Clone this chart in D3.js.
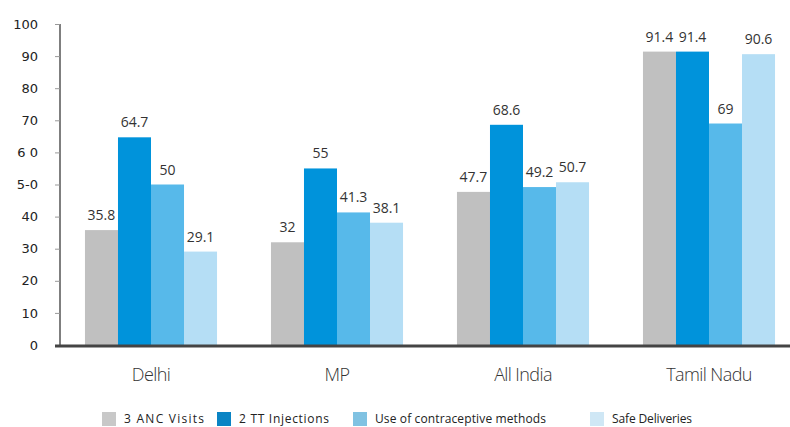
<!DOCTYPE html>
<html>
<head>
<meta charset="utf-8">
<script src="https://cdn.jsdelivr.net/npm/d3@7"></script>
<style>
  body { margin: 0; background: #fff; }
  text { font-family: "Open Sans", "DejaVu Sans", sans-serif; }
</style>
</head>
<body>
<div id="chartDiv"></div>
<script>
// data
var regions = ["Delhi", "MP", "All India", "Tamil Nadu"];
var seriesNames = ["3 ANC Visits", "2 TT Injections", "Use of contraceptive methods", "Safe Deliveries"];
var ancVisits = [35.8, 32, 47.7, 91.4];
var ttInjections = [64.7, 55, 68.6, 91.4];
var contraceptive = [50, 41.3, 49.2, 69];
var safeDeliveries = [29.1, 38.1, 50.7, 90.6];
var yTicks = [0, 10, 20, 30, 40, 50, 60, 70, 80, 90, 100];
var yTickLabels = ["0", "10", "20", "30", "40", "5-0", "6 0", "70", "80", "90", "100"];

var barColors = ["#c0c0c0", "#0093db", "#57b9ea", "#b5def5"];
var legendColors = ["#c8c8c8", "#0a84c4", "#80c2e2", "#cfe7f5"];
var seriesValues = [ancVisits, ttInjections, contraceptive, safeDeliveries];

var svg = d3.select("#chartDiv").append("svg")
    .attr("width", 790)
    .attr("height", 427);

var x_scale = d3.scaleBand()
    .domain(regions)
    .range([58, 802])
    .paddingInner(0.29)
    .paddingOuter(0.145);

var x_inner = d3.scaleBand()
    .domain(d3.range(seriesNames.length))
    .range([0, x_scale.bandwidth()]);

var y_scale = d3.scaleLinear()
    .domain([0, 100])
    .range([345, 24]);

// y axis
var yAxis = d3.axisLeft(y_scale)
    .tickValues(yTicks)
    .tickSize(5)
    .tickPadding(17)
    .tickFormat(function(d, i) { return yTickLabels[i]; });

var yg = svg.append("g")
    .attr("transform", "translate(60,0)")
    .call(yAxis);
yg.select(".domain").attr("stroke", "#555").attr("stroke-width", 1.5)
    .attr("d", "M0," + y_scale(100) + "V" + y_scale(0));
yg.selectAll(".tick line").attr("stroke", "#999");
yg.selectAll(".tick text")
    .attr("fill", "#222")
    .style("font-size", "13px")
    .style("font-family", "'DejaVu Sans', sans-serif");

// bars
var groups = svg.append("g").selectAll(".group")
    .data(regions)
    .enter().append("g")
    .attr("class", "group")
    .attr("transform", function(d) { return "translate(" + x_scale(d) + ",0)"; });

groups.selectAll("rect")
    .data(function(d, gi) { return seriesValues.map(function(s, si) { return {s: si, v: s[gi]}; }); })
    .enter().append("rect")
    .attr("x", function(d) { return x_inner(d.s); })
    .attr("y", function(d) { return y_scale(d.v); })
    .attr("width", x_inner.bandwidth())
    .attr("height", function(d) { return y_scale(0) - y_scale(d.v); })
    .attr("fill", function(d) { return barColors[d.s]; });

groups.selectAll(".val")
    .data(function(d, gi) { return seriesValues.map(function(s, si) { return {s: si, v: s[gi]}; }); })
    .enter().append("text")
    .attr("class", "val")
    .attr("x", function(d) { return x_inner(d.s) + x_inner.bandwidth() / 2; })
    .attr("y", function(d) { return y_scale(d.v) - 10; })
    .attr("text-anchor", "middle")
    .attr("fill", "#333")
    .style("font-size", "14px")
    .text(function(d) { return d.v; });

// baseline
svg.append("line")
    .attr("x1", 55).attr("x2", 790)
    .attr("y1", y_scale(0) + 1).attr("y2", y_scale(0) + 1)
    .attr("stroke", "#444")
    .attr("stroke-width", 3);

// category labels
svg.append("g").selectAll(".cat")
    .data(regions)
    .enter().append("text")
    .attr("x", function(d) { return x_scale(d) + x_scale.bandwidth() / 2; })
    .attr("y", 381)
    .attr("text-anchor", "middle")
    .attr("fill", "#333")
    .style("font-size", "18px")
    .style("font-weight", "300")
    .style("letter-spacing", "-0.6px")
    .style("font-family", "'Open Sans', sans-serif")
    .text(function(d) { return d; });

// legend
var legendX = [102, 217, 353, 590];
var legendW = [80, 90, 171, 80];
var legend = svg.append("g").selectAll(".leg")
    .data(seriesNames)
    .enter().append("g")
    .attr("transform", function(d, i) { return "translate(" + legendX[i] + ",412)"; });

legend.append("rect")
    .attr("width", 14).attr("height", 14)
    .attr("fill", function(d, i) { return legendColors[i]; });

legend.append("text")
    .attr("x", 22).attr("y", 11)
    .attr("fill", "#222")
    .attr("textLength", function(d, i) { return legendW[i]; })
    .attr("lengthAdjust", "spacing")
    .style("font-size", "12px")
    .text(function(d) { return d; });
</script>
</body>
</html>
